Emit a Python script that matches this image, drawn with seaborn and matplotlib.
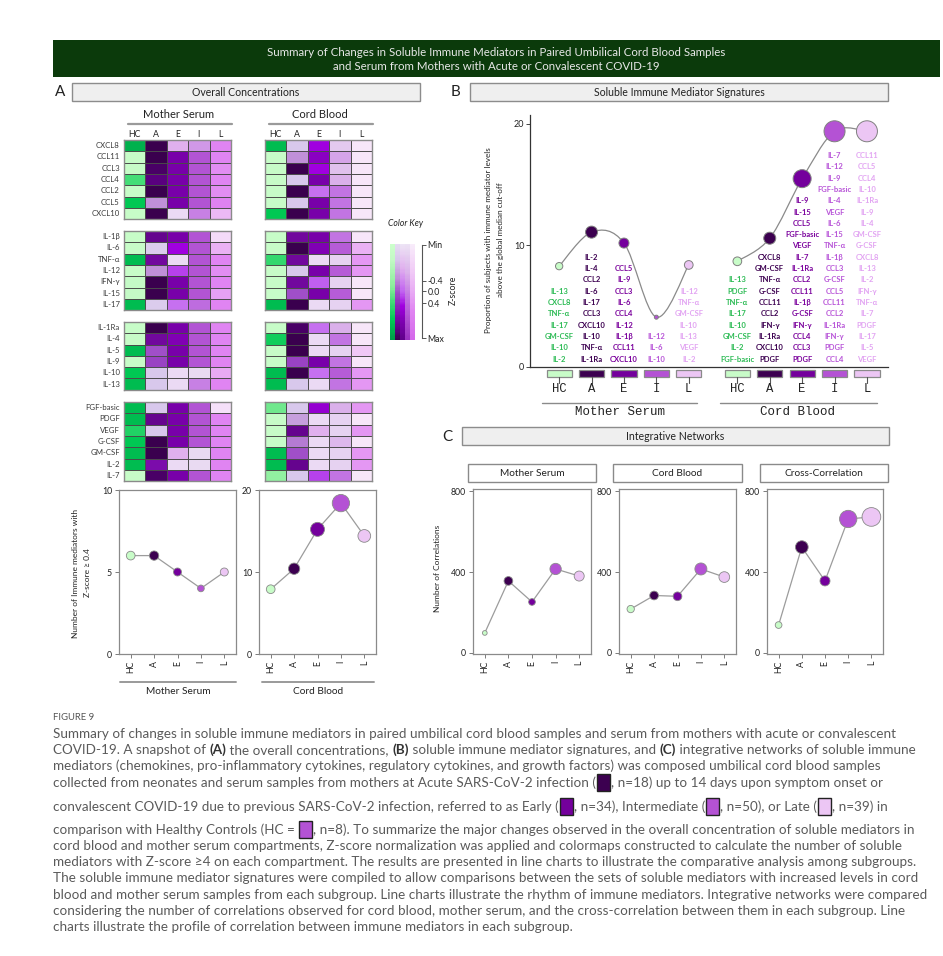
import numpy as np
import pandas as pd
import matplotlib
matplotlib.use("Agg")
import matplotlib.pyplot as plt
import seaborn as sns
from matplotlib.colors import LinearSegmentedColormap
from matplotlib.patches import Rectangle, PathPatch
from matplotlib.lines import Line2D
from matplotlib.path import Path
from matplotlib.transforms import blended_transform_factory
from matplotlib import font_manager

# ---------------------------------------------------------------- data
groups = ["HC", "A", "E", "I", "L"]

chemokines = ["CXCL8", "CCL11", "CCL3", "CCL4", "CCL2", "CCL5", "CXCL10"]
proinflam = ["IL-1β", "IL-6", "TNF-α", "IL-12", "IFN-γ", "IL-15", "IL-17"]
regulatory = ["IL-1Ra", "IL-4", "IL-5", "IL-9", "IL-10", "IL-13"]
growth = ["FGF-basic", "PDGF", "VEGF", "G-CSF", "GM-CSF", "IL-2", "IL-7"]

# relative colour level (0 = lowest, 1 = highest) per mediator, columns HC, A, E, I, L
ms_chemokines = [[0.90, 1.00, 0.25, 0.40, 0.70],
                 [0.10, 1.00, 0.85, 0.75, 0.70],
                 [0.10, 0.95, 0.85, 0.75, 0.65],
                 [0.60, 0.90, 0.85, 0.75, 0.70],
                 [0.10, 1.00, 0.85, 0.75, 0.65],
                 [0.80, 0.35, 0.85, 0.75, 0.72],
                 [0.10, 1.00, 0.05, 0.50, 0.40]]
ms_proinflam = [[0.10, 0.85, 0.85, 0.75, 0.15],
                [0.10, 0.12, 0.65, 0.75, 0.45],
                [0.85, 0.80, 0.05, 0.75, 0.70],
                [0.10, 0.35, 0.55, 0.75, 0.65],
                [0.15, 1.00, 0.85, 0.75, 0.70],
                [0.15, 1.00, 0.85, 0.75, 0.55],
                [0.85, 0.12, 0.45, 0.60, 0.70]]
ms_regulatory = [[0.10, 1.00, 0.85, 0.75, 0.70],
                 [0.10, 0.80, 0.80, 0.75, 0.70],
                 [0.85, 0.50, 0.85, 0.75, 0.70],
                 [0.10, 0.55, 0.85, 0.75, 0.70],
                 [0.80, 0.15, 0.05, 0.05, 0.50],
                 [0.85, 0.15, 0.05, 0.50, 0.70]]
ms_growth = [[0.85, 0.15, 0.85, 0.75, 0.10],
             [0.85, 0.85, 0.85, 0.75, 0.70],
             [0.70, 0.15, 0.85, 0.75, 0.70],
             [0.80, 1.00, 0.85, 0.75, 0.70],
             [0.85, 1.00, 0.25, 0.05, 0.70],
             [0.85, 0.75, 0.05, 0.05, 0.70],
             [0.10, 0.95, 0.85, 0.75, 0.70]]

cb_chemokines = [[0.85, 0.15, 0.65, 0.15, 0.05],
                 [0.10, 0.35, 0.75, 0.35, 0.05],
                 [0.10, 1.00, 0.65, 0.20, 0.05],
                 [0.10, 0.15, 0.85, 0.30, 0.05],
                 [0.10, 1.00, 0.45, 0.55, 0.05],
                 [0.10, 0.15, 0.85, 0.55, 0.05],
                 [0.80, 1.00, 0.85, 0.55, 0.05]]
cb_proinflam = [[0.10, 0.80, 0.85, 0.55, 0.05],
                [0.10, 1.00, 0.80, 0.70, 0.45],
                [0.65, 0.80, 0.05, 0.10, 0.60],
                [0.10, 0.15, 0.85, 0.70, 0.60],
                [0.10, 0.80, 0.50, 0.10, 0.05],
                [0.10, 0.50, 0.85, 0.70, 0.05],
                [0.85, 1.00, 0.05, 0.10, 0.60]]
cb_regulatory = [[0.10, 0.95, 0.45, 0.30, 0.05],
                 [0.75, 1.00, 0.05, 0.55, 0.05],
                 [0.10, 1.00, 0.05, 0.10, 0.30],
                 [0.10, 0.55, 0.85, 0.55, 0.05],
                 [0.85, 1.00, 0.45, 0.70, 0.60],
                 [0.85, 0.15, 0.05, 0.55, 0.60]]
cb_growth = [[0.50, 0.15, 0.70, 0.30, 0.60],
             [0.10, 0.30, 0.05, 0.10, 0.05],
             [0.10, 0.85, 0.25, 0.10, 0.60],
             [0.10, 0.40, 0.05, 0.25, 0.05],
             [0.85, 0.50, 0.05, 0.10, 0.60],
             [0.85, 0.85, 0.05, 0.10, 0.60],
             [0.40, 0.15, 0.55, 0.55, 0.05]]

# number of mediators with Z-score >= 0.4 (panel A line charts)
ms_count = [6.0, 6.0, 5.0, 4.0, 5.0]
cb_count = [7.9, 10.4, 15.2, 18.4, 14.4]
ms_count_size = [8.7, 9.3, 8.0, 6.7, 8.0]
cb_count_size = [8.7, 11.3, 14.0, 17.3, 12.7]

# signature curves (panel B)
ms_signature = [8.3, 11.1, 10.2, 4.1, 8.4]
cb_signature = [8.7, 10.6, 15.5, 19.4, 19.4]
ms_signature_size = [7.3, 12.0, 10.0, 4.0, 8.7]
cb_signature_size = [8.7, 12.0, 18.0, 21.0, 21.0]

ms_lists = [["IL-13", "CXCL8", "TNF-α", "IL-17", "GM-CSF", "IL-10", "IL-2"],
            ["IL-2", "IL-4", "CCL2", "IL-6", "IL-17", "CCL3", "CXCL10", "IL-10", "TNF-α", "IL-1Ra"],
            ["CCL5", "IL-9", "CCL3", "IL-6", "CCL4", "IL-12", "IL-1β", "CCL11", "CXCL10"],
            ["IL-12", "IL-6", "IL-10"],
            ["IL-12", "TNF-α", "GM-CSF", "IL-10", "IL-13", "VEGF", "IL-2"]]
cb_lists = [["IL-13", "PDGF", "TNF-α", "IL-17", "IL-10", "GM-CSF", "IL-2", "FGF-basic"],
            ["CXCL8", "GM-CSF", "TNF-α", "G-CSF", "CCL11", "CCL2", "IFN-γ", "IL-1Ra", "CXCL10", "PDGF"],
            ["IL-9", "IL-15", "CCL5", "FGF-basic", "VEGF", "IL-7", "IL-1Ra", "CCL2", "CCL11",
             "IL-1β", "G-CSF", "IFN-γ", "CCL4", "CCL3", "PDGF"],
            ["IL-7", "IL-12", "IL-9", "FGF-basic", "IL-4", "VEGF", "IL-6", "IL-15", "TNF-α", "IL-1β",
             "CCL3", "G-CSF", "CCL5", "CCL11", "CCL2", "IL-1Ra", "IFN-γ", "PDGF", "CCL4"],
            ["CCL11", "CCL5", "CCL4", "IL-10", "IL-1Ra", "IL-9", "IL-4", "GM-CSF", "G-CSF", "CXCL8",
             "IL-13", "IL-2", "IFN-γ", "TNF-α", "IL-7", "PDGF", "IL-17", "IL-5", "VEGF"]]

# number of correlations (panel C)
net_titles = ["Mother Serum", "Cord Blood", "Cross-Correlation"]
net_ms = [99, 356, 252, 415, 380]
net_cb = [217, 284, 280, 415, 375]
net_cc = [138, 523, 356, 662, 672]
net_ms_size = [4.7, 8.7, 6.7, 11.3, 10.0]
net_cb_size = [7.3, 8.7, 8.7, 12.0, 10.7]
net_cc_size = [6.7, 12.7, 10.0, 17.3, 18.7]

key_ticks = [0.0, 0.387, 0.495, 0.624, 1.0]
key_labels = ["Min", "-0.4", "0.0", "0.4", "Max"]

# ---------------------------------------------------------------- style
sns.set_theme(style="white")
avail = {f.name for f in font_manager.fontManager.ttflist}


def pick(*names):
    for n in names:
        if n in avail:
            return n
    return "DejaVu Sans"


SANS = pick("Lato", "Open Sans", "Noto Sans")
MONO = pick("Liberation Mono", "DejaVu Sans Mono")
CAPF = pick("Liberation Sans Narrow", "Lato", "Open Sans")
plt.rcParams["font.family"] = [SANS, "DejaVu Sans"]

group_colors = {"HC": "#c8fcc8", "A": "#3c0050", "E": "#74009c", "I": "#b452d4", "L": "#ecc6f4"}
text_colors = {"HC": "#2dbb55", "A": "#3c0050", "E": "#7a009c", "I": "#b855d8", "L": "#e2a4f2"}


def ramp(name, stops):
    return LinearSegmentedColormap.from_list(name, stops)


cmaps = {
    "HC": ramp("hc", [(0, "#ccffcc"), (0.15, "#c4fac6"), (0.45, "#88ee99"), (0.6, "#44dd77"),
                      (0.8, "#00c853"), (1.0, "#009a48")]),
    "A": ramp("a", [(0, "#e6dcf2"), (0.15, "#d8c8ec"), (0.35, "#c090d8"), (0.5, "#a050c8"),
                    (0.75, "#7c0cac"), (0.9, "#5a0080"), (1.0, "#3a004e")]),
    "E": ramp("e", [(0, "#ede4f5"), (0.25, "#e0b0ee"), (0.5, "#c060f0"), (0.65, "#a000e0"),
                    (0.8, "#8000b4"), (1.0, "#60008a")]),
    "I": ramp("i", [(0, "#ece2f4"), (0.3, "#dab0ea"), (0.55, "#c274e2"), (0.75, "#b254d4"),
                    (1.0, "#9a30c0")]),
    "L": ramp("l", [(0, "#f8ecfa"), (0.3, "#f0c8f6"), (0.5, "#e8aaf4"), (0.7, "#e084f2"),
                    (1.0, "#d468ea")]),
}

W, H = 943, 956
fig = plt.figure(figsize=(W / 100, H / 100), dpi=100)
fig.patch.set_facecolor("white")


def fx(x):
    return x / W


def fy(y):
    return 1 - y / H


def box(x0, y0, x1, y1):
    return [x0 / W, 1 - y1 / H, (x1 - x0) / W, (y1 - y0) / H]


def ftext(x, y, s, **kw):
    kw.setdefault("ha", "center")
    kw.setdefault("va", "center")
    return fig.text(fx(x), fy(y), s, **kw)


def frect(x0, y0, x1, y1, fc, ec, lw=0.8):
    fig.add_artist(Rectangle((fx(x0), fy(y1)), (x1 - x0) / W, (y1 - y0) / H,
                             transform=fig.transFigure, facecolor=fc, edgecolor=ec, linewidth=lw))


def fline(x0, y0, x1, y1, color="#8a8a8a", lw=1.0):
    fig.add_artist(Line2D([fx(x0), fx(x1)], [fy(y0), fy(y1)], transform=fig.transFigure,
                          color=color, lw=lw))


# ---------------------------------------------------------------- header
frect(53, 40, 940, 77, "#0b3a0b", "none")
ftext(496, 52, "Summary of Changes in Soluble Immune Mediators in Paired Umbilical Cord Blood Samples",
      color="#e8e8e8", fontsize=8.3)
ftext(496, 67, "and Serum from Mothers with Acute or Convalescent COVID-19", color="#e8e8e8", fontsize=8.3)

for lab, (lx, ly) in zip("ABC", [(60, 92), (455, 92), (447, 437)]):
    ftext(lx, ly, lab, fontsize=11, color="#222222")
for (x0, y0, x1, y1), s in [((72, 83, 420, 101), "Overall Concentrations"),
                            ((470, 83, 888, 101), "Soluble Immune Mediator Signatures"),
                            ((462, 427, 889, 445), "Integrative Networks")]:
    frect(x0, y0, x1, y1, "#efefef", "#8c8c8c", 1.0)
    ftext((x0 + x1) / 2, (y0 + y1) / 2, s, fontsize=7.6, color="#222222")

# ---------------------------------------------------------------- panel A heatmaps
GRID = "#4a4a4a"


def heat(ax, df, labels):
    for j, g in enumerate(groups):
        mask = np.ones(df.shape, bool)
        mask[:, j] = False
        sns.heatmap(df, mask=mask, cmap=cmaps[g], vmin=0, vmax=1, cbar=False, ax=ax,
                    linewidths=0, xticklabels=False, yticklabels=labels)
    nr, nc = df.shape
    for r in range(1, nr):
        ax.axhline(r, color=GRID, lw=0.7)
    for c in range(1, nc):
        ax.axvline(c, color=GRID, lw=0.7)
    for s in ax.spines.values():
        s.set_visible(True)
        s.set_color("#8a8a8a")
        s.set_linewidth(1.0)
    ax.set_xlabel("")
    ax.set_ylabel("")
    ax.tick_params(axis="y", length=0, pad=3, labelsize=5.6, labelcolor="#3a3a3a")
    if labels:
        plt.setp(ax.get_yticklabels(), rotation=0)


ROW = 11.3
block_names = [chemokines, proinflam, regulatory, growth]
block_tops = [140, 231, 322, 402]
compartments = [((124, 231), [ms_chemokines, ms_proinflam, ms_regulatory, ms_growth], True, "Mother Serum"),
                ((265, 372), [cb_chemokines, cb_proinflam, cb_regulatory, cb_growth], False, "Cord Blood")]
for (x0, x1), blocks, labels, title in compartments:
    for names, top, vals in zip(block_names, block_tops, blocks):
        ax = fig.add_axes(box(x0, top, x1, top + ROW * len(names)))
        heat(ax, pd.DataFrame(vals, index=names, columns=groups), labels)
    cw = (x1 - x0) / len(groups)
    for j, g in enumerate(groups):
        ftext(x0 + cw * (j + 0.5), 134.5, g, fontsize=6.3, color="#222222")
    ftext((x0 + x1) / 2 + 1, 115, title, fontsize=8.0, color="#222222")
    fline(x0 + 4, 124, x1 + 1, 124, "#9a9a9a", 1.6)

# colour key
ftext(388, 223, "Color Key", fontsize=6.2, style="italic", ha="left", color="#222222")
key_levels = np.linspace(0, 1, 80)
key_df = pd.DataFrame(np.repeat(key_levels[:, None], len(groups), axis=1), columns=groups)
kax = fig.add_axes(box(390, 244, 415, 340))
for j, g in enumerate(groups):
    mask = np.ones(key_df.shape, bool)
    mask[:, j] = False
    sns.heatmap(key_df, mask=mask, cmap=cmaps[g], vmin=0, vmax=1, cbar=False, ax=kax,
                xticklabels=False, yticklabels=False, linewidths=0)
kax.set_xlabel("")
kax.set_ylabel("")
tax = fig.add_axes(box(418, 245, 422, 338))
tax.set_ylim(1, 0)
tax.set_xlim(0, 1)
for side in ["top", "bottom", "left"]:
    tax.spines[side].set_visible(False)
tax.spines["right"].set_color("#555555")
tax.spines["right"].set_linewidth(0.8)
tax.set_facecolor("none")
tax.set_xticks([])
tax.yaxis.tick_right()
tax.set_yticks(key_ticks, key_labels)
tax.tick_params(axis="y", right=True, direction="out", length=3, width=0.7, color="#555555",
                labelsize=6.3, pad=1, labelcolor="#222222")
ftext(453, 290, "Z-score", fontsize=6.3, rotation=90, color="#222222")

# ---------------------------------------------------------------- dotted line charts
LINE = "#9c9c9c"


def dots(ax, xs, vals, sizes, edge="#8a8a8a"):
    sns.lineplot(x=xs, y=vals, ax=ax, color=LINE, lw=0.9, zorder=1)
    size_map = {g: (d * 0.72) ** 2 for g, d in zip(groups, sizes)}
    sns.scatterplot(x=xs, y=vals, hue=groups, palette=group_colors, size=groups, sizes=size_map,
                    legend=False, edgecolor=edge, linewidth=0.6, zorder=3, ax=ax, clip_on=False)


def boxed(ax, ylim, yticks):
    ax.set_xlim(-0.5, 4.5)
    ax.set_ylim(*ylim)
    ax.set_yticks(yticks)
    ax.set_xticks(range(5), groups, rotation=90)
    for s in ax.spines.values():
        s.set_color("#8a8a8a")
        s.set_linewidth(0.9)
    ax.tick_params(bottom=True, left=True, length=3, width=0.6, color="#666666",
                   labelsize=6.3, labelcolor="#222222", pad=2)
    ax.set_xlabel("")
    ax.set_ylabel("")


xs = np.arange(5)
ax_ms = fig.add_axes(box(119, 490, 236, 654))
dots(ax_ms, xs, ms_count, ms_count_size)
boxed(ax_ms, (0, 10), [0, 5, 10])
ax_cb = fig.add_axes(box(259, 490, 376, 654))
dots(ax_cb, xs, cb_count, cb_count_size)
boxed(ax_cb, (0, 20), [0, 10, 20])
fline(120, 682, 236, 682, "#9a9a9a", 1.4)
fline(262, 682, 374, 682, "#9a9a9a", 1.4)
ftext(178, 691, "Mother Serum", fontsize=7.3, color="#222222")
ftext(318, 691, "Cord Blood", fontsize=7.3, color="#222222")
ftext(75, 573, "Number of Immune mediators with", fontsize=6.0, rotation=90, color="#222222")
ftext(88, 573, "Z-score ≥ 0.4", fontsize=6.0, rotation=90, color="#222222")

# ---------------------------------------------------------------- panel B
bx = fig.add_axes(box(530, 115, 888, 367))
bx.set_facecolor("none")
ms_x = np.arange(5, dtype=float)
cb_x = np.arange(5, dtype=float) + 5.5


def smooth_path(xv, yv):
    pts = np.column_stack([xv, yv])
    verts = [pts[0]]
    codes = [Path.MOVETO]
    n = len(pts)
    for i in range(n - 1):
        p0 = pts[i - 1] if i > 0 else pts[i]
        p1, p2 = pts[i], pts[i + 1]
        p3 = pts[i + 2] if i + 2 < n else pts[i + 1]
        verts += [p1 + (p2 - p0) / 6, p2 - (p3 - p1) / 6, p2]
        codes += [Path.CURVE4] * 3
    return Path(verts, codes)


for xv, yv, sz in [(ms_x, ms_signature, ms_signature_size), (cb_x, cb_signature, cb_signature_size)]:
    bx.add_patch(PathPatch(smooth_path(xv, yv), facecolor="none", edgecolor="#8a8a8a", lw=0.9, zorder=1))
    size_map = {g: (d * 0.72) ** 2 for g, d in zip(groups, sz)}
    sns.scatterplot(x=xv, y=yv, hue=groups, palette=group_colors, size=groups, sizes=size_map,
                    legend=False, edgecolor="#808080", linewidth=0.7, zorder=3, ax=bx, clip_on=False)

bx.set_xlim(-0.9, 10.15)
bx.set_ylim(0, 20.74)
bx.set_yticks([0, 10, 20])
bx.set_xticks([])
for side in ["top", "right"]:
    bx.spines[side].set_visible(False)
for side in ["left", "bottom"]:
    bx.spines[side].set_color("#333333")
    bx.spines[side].set_linewidth(0.9)
bx.tick_params(axis="y", left=True, length=3, width=0.7, color="#444444", labelsize=6.5,
               labelcolor="#222222", pad=1)
bx.set_xlabel("")
bx.set_ylabel("")

trans = blended_transform_factory(bx.transData, bx.transAxes)
AXH = 252.0
for xv in (ms_x, cb_x):
    for x, g in zip(xv, groups):
        bx.add_patch(Rectangle((x - 0.39, -10 / AXH), 0.78, 7 / AXH, transform=trans, clip_on=False,
                               facecolor=group_colors[g], edgecolor="#8a8a8a", lw=0.9))
        bx.add_line(Line2D([x, x], [-10 / AXH, -16 / AXH], transform=trans, clip_on=False,
                           color="#555555", lw=0.8))
        bx.text(x, -22 / AXH, g, transform=trans, ha="center", va="center", family=MONO,
                fontsize=8.8, color="#222222")

for xv, lists in [(ms_x, ms_lists), (cb_x, cb_lists)]:
    for x, g, items in zip(xv, groups, lists):
        for k, name in enumerate(reversed(items)):
            bx.annotate(name, xy=(x, 0), xytext=(0, (8 + 11.3 * k) * 0.72), textcoords="offset points",
                        ha="center", va="center", fontsize=5.5, fontweight="bold",
                        color=text_colors[g], annotation_clip=False)

fline(542, 403, 697, 403, "#8a8a8a", 1.0)
fline(720, 403, 877, 403, "#8a8a8a", 1.0)
ftext(620, 412, "Mother Serum", family=MONO, fontsize=9.0, color="#222222")
ftext(798, 412, "Cord Blood", family=MONO, fontsize=9.0, color="#222222")
ftext(488, 240, "Proportion of subjects with immune mediator levels", fontsize=5.9, rotation=90,
      color="#222222")
ftext(500, 240, "above the global median cut-off", fontsize=5.9, rotation=90, color="#222222")

# ---------------------------------------------------------------- panel C
net_vals = [net_ms, net_cb, net_cc]
net_sizes = [net_ms_size, net_cb_size, net_cc_size]
net_axes = [(473, 591), (619, 736), (767, 883)]
net_boxes = [(468, 596), (613, 742), (760, 888)]
for (a0, a1), (b0, b1), title, vals, sz in zip(net_axes, net_boxes, net_titles, net_vals, net_sizes):
    frect(b0, 464, b1, 482, "white", "#8a8a8a", 1.0)
    ftext((b0 + b1) / 2, 473, title, fontsize=7.3, color="#222222")
    ax = fig.add_axes(box(a0, 489, a1, 654))
    dots(ax, xs, vals, sz)
    boxed(ax, (-5, 810), [0, 400, 800])
ftext(438, 568, "Number of Correlations", fontsize=6.0, rotation=90, color="#222222")

# ---------------------------------------------------------------- caption
renderer = fig.canvas.get_renderer()
CAPC = "#5a5a5a"
cap_family = [CAPF, "DejaVu Sans"]
SWATCH = 15


def text_w(s, **kw):
    t = fig.text(0, 0, "x" + s + "x", **kw)
    w1 = t.get_window_extent(renderer).width
    t.remove()
    t = fig.text(0, 0, "xx", **kw)
    w0 = t.get_window_extent(renderer).width
    t.remove()
    return w1 - w0


caption = [
    (734, ["Summary of changes in soluble immune mediators in paired umbilical cord blood samples "
           "and serum from mothers with acute or convalescent"]),
    (750, ["COVID-19. A snapshot of ", ("b", "(A)"), " the overall concentrations, ", ("b", "(B)"),
           " soluble immune mediator signatures, and ", ("b", "(C)"),
           " integrative networks of soluble immune"]),
    (766, ["mediators (chemokines, pro-inflammatory cytokines, regulatory cytokines, and growth factors) "
           "was composed umbilical cord blood samples"]),
    (783, ["collected from neonates and serum samples from mothers at Acute SARS-CoV-2 infection (",
           ("sw", group_colors["A"]), ", n=18) up to 14 days upon symptom onset or"]),
    (807, ["convalescent COVID-19 due to previous SARS-CoV-2 infection, referred to as Early (",
           ("sw", group_colors["E"]), ", n=34), Intermediate (", ("sw", group_colors["I"]),
           ", n=50), or Late (", ("sw", group_colors["L"]), ", n=39) in"]),
    (830, ["comparison with Healthy Controls (HC = ", ("sw", group_colors["I"]),
           ", n=8). To summarize the major changes observed in the overall concentration of soluble mediators in"]),
    (846, ["cord blood and mother serum compartments, Z-score normalization was applied and colormaps "
           "constructed to calculate the number of soluble"]),
    (862, ["mediators with Z-score ≥4 on each compartment. The results are presented in line charts to "
           "illustrate the comparative analysis among subgroups."]),
    (878, ["The soluble immune mediator signatures were compiled to allow comparisons between the sets "
           "of soluble mediators with increased levels in cord"]),
    (895, ["blood and mother serum samples from each subgroup. Line charts illustrate the rhythm of "
           "immune mediators. Integrative networks were compared"]),
    (911, ["considering the number of correlations observed for cord blood, mother serum, and the "
           "cross-correlation between them in each subgroup. Line"]),
    (927, ["charts illustrate the profile of correlation between immune mediators in each subgroup."]),
]


def seg_style(p, size):
    if isinstance(p, str):
        return p, dict(fontsize=size, family=cap_family, color=CAPC)
    return p[1], dict(fontsize=size, family=cap_family, color="#333333", fontweight="bold")


def line_width(parts, size):
    w = 0.0
    for p in parts:
        if isinstance(p, tuple) and p[0] == "sw":
            w += SWATCH
        else:
            s, kw = seg_style(p, size)
            w += text_w(s, **kw)
    return w


# one font size for the whole caption, chosen so the widest line ends at the right margin
widest = max(line_width(parts, 10) for _, parts in caption)
cap_size = 10 * 872 / widest

ftext(53, 717, "FIGURE 9", ha="left", fontsize=6.8, color="#555555", family=cap_family)
for y, parts in caption:
    x = 53.0
    for p in parts:
        if isinstance(p, tuple) and p[0] == "sw":
            frect(x + 1, y - 9, x + 14, y + 8, p[1], "#222222", 1.0)
            x += SWATCH
        else:
            s, kw = seg_style(p, cap_size)
            ftext(x, y, s, ha="left", **kw)
            x += text_w(s, **kw)

fig.savefig("out.png", dpi=100, facecolor="white")
